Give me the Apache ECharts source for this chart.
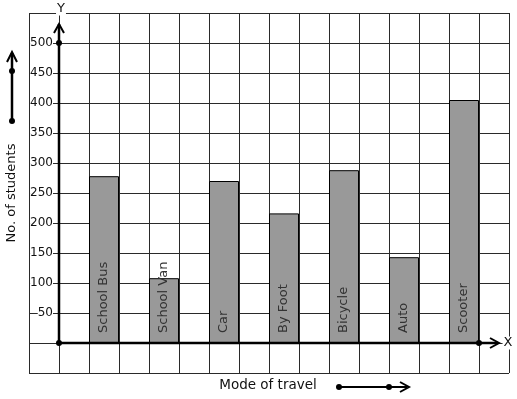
<!DOCTYPE html>
<html><head><meta charset="utf-8">
<script src="https://cdn.jsdelivr.net/npm/echarts@6/dist/echarts.min.js"></script>
<style>html,body{margin:0;padding:0;background:#fff}#c{width:517px;height:399px}</style>
</head><body><div id="c"></div>
<script>
const categories = ['School Bus', 'School Van', 'Car', 'By Foot', 'Bicycle', 'Auto', 'Scooter'];
const students = [278, 108, 270, 216, 288, 143, 405];
const yTickLabels = [50, 100, 150, 200, 250, 300, 350, 400, 450, 500];
const xTitle = 'Mode of travel';
const yTitle = 'No. of students';
const xName = 'X';
const yName = 'Y';

const FONT = 'DejaVu Sans';
const chart = echarts.init(document.getElementById('c'), null, {renderer: 'canvas'});
const gridLine = {show: true, lineStyle: {color: '#2a2a2a', width: 1}};

chart.setOption({
  animation: false,
  backgroundColor: '#fff',
  grid: [
    {left: 29, right: 8, top: 13, bottom: 26},
    {left: 74, right: 23, top: 13, bottom: 26}
  ],
  xAxis: [
    {gridIndex: 0, type: 'value', min: -1, max: 15, interval: 1,
     axisLine: {show: false}, axisTick: {show: false}, axisLabel: {show: false},
     splitLine: gridLine},
    {gridIndex: 1, type: 'category', data: categories,
     axisLine: {show: false}, axisTick: {show: false}, axisLabel: {show: false},
     splitLine: {show: false}}
  ],
  yAxis: [
    {gridIndex: 0, type: 'value', min: -50, max: 550, interval: 50,
     axisLine: {show: false}, axisTick: {show: false},
     axisLabel: {
       margin: -24, color: '#111', fontFamily: FONT, fontSize: 12,
       backgroundColor: '#fff', padding: [0, 0, 0, 0],
       formatter: v => (yTickLabels.indexOf(v) >= 0 ? String(v) : '')
     },
     splitLine: gridLine},
    {gridIndex: 1, type: 'value', min: -50, max: 550, interval: 50,
     axisLine: {show: false}, axisTick: {show: false}, axisLabel: {show: false},
     splitLine: {show: false}}
  ],
  series: [{
    type: 'bar', xAxisIndex: 1, yAxisIndex: 1,
    data: students, barWidth: 30,
    itemStyle: {color: '#999999', borderColor: '#000', borderWidth: 1},
    label: {
      show: true, formatter: '{b}', position: 'insideBottom', rotate: 90,
      align: 'left', verticalAlign: 'middle', distance: 10,
      color: '#333', fontFamily: FONT, fontSize: 13
    }
  }]
});

function px(x, y) { return chart.convertToPixel({gridIndex: 0}, [x, y]); }
const o = px(0, 0);
const yTop = px(0, 500);
const xEnd = px(14, 0);
const axisTopY = 24, axisRightX = 499;
const stroke = {stroke: '#000', lineWidth: 2.5};
const thin = {stroke: '#000', lineWidth: 2, fill: 'none'};
function dot(x, y) { return {type: 'circle', shape: {cx: x, cy: y, r: 3}, style: {fill: '#000'}, z: 20}; }
function line(x1, y1, x2, y2, st) { return {type: 'line', shape: {x1, y1, x2, y2}, style: st || stroke, z: 20}; }
function chev(points) { return {type: 'polyline', shape: {points}, style: thin, z: 20}; }

chart.setOption({
  graphic: [
    // axes
    line(o[0], o[1], o[0], axisTopY),
    chev([[o[0] - 5, axisTopY + 9], [o[0], axisTopY], [o[0] + 5, axisTopY + 9]]),
    line(o[0], o[1], axisRightX - 1, o[1]),
    chev([[axisRightX - 9, o[1] - 5], [axisRightX, o[1]], [axisRightX - 9, o[1] + 5]]),
    dot(o[0], o[1]), dot(yTop[0], yTop[1]), dot(xEnd[0], xEnd[1]),
    {type: 'text', x: o[0] + 2, y: 9, style: {text: yName, font: '13px ' + FONT, fill: '#111', align: 'center', verticalAlign: 'middle', backgroundColor: '#fff', padding: [0, 1]}, z: 25},
    {type: 'text', x: 508, y: 343, style: {text: xName, font: '13px ' + FONT, fill: '#111', align: 'center', verticalAlign: 'middle', backgroundColor: '#fff', padding: [0, 1]}, z: 25},
    // y title and arrow
    {type: 'text', x: 12, y: 193, rotation: Math.PI / 2, style: {text: yTitle, font: '13px ' + FONT, fill: '#111', align: 'center', verticalAlign: 'middle'}},
    line(12, 121, 12, 53),
    chev([[7, 62], [12, 52], [17, 62]]),
    dot(12, 71), dot(12, 121),
    // x title and arrow
    {type: 'text', x: 268, y: 385, style: {text: xTitle, font: '13.5px ' + FONT, fill: '#111', align: 'center', verticalAlign: 'middle'}},
    line(339, 387, 407, 387, {stroke: '#000', lineWidth: 2}),
    chev([[400, 382], [409, 387], [400, 392]]),
    dot(339, 387), dot(389, 387)
  ]
});
</script>
</body></html>
